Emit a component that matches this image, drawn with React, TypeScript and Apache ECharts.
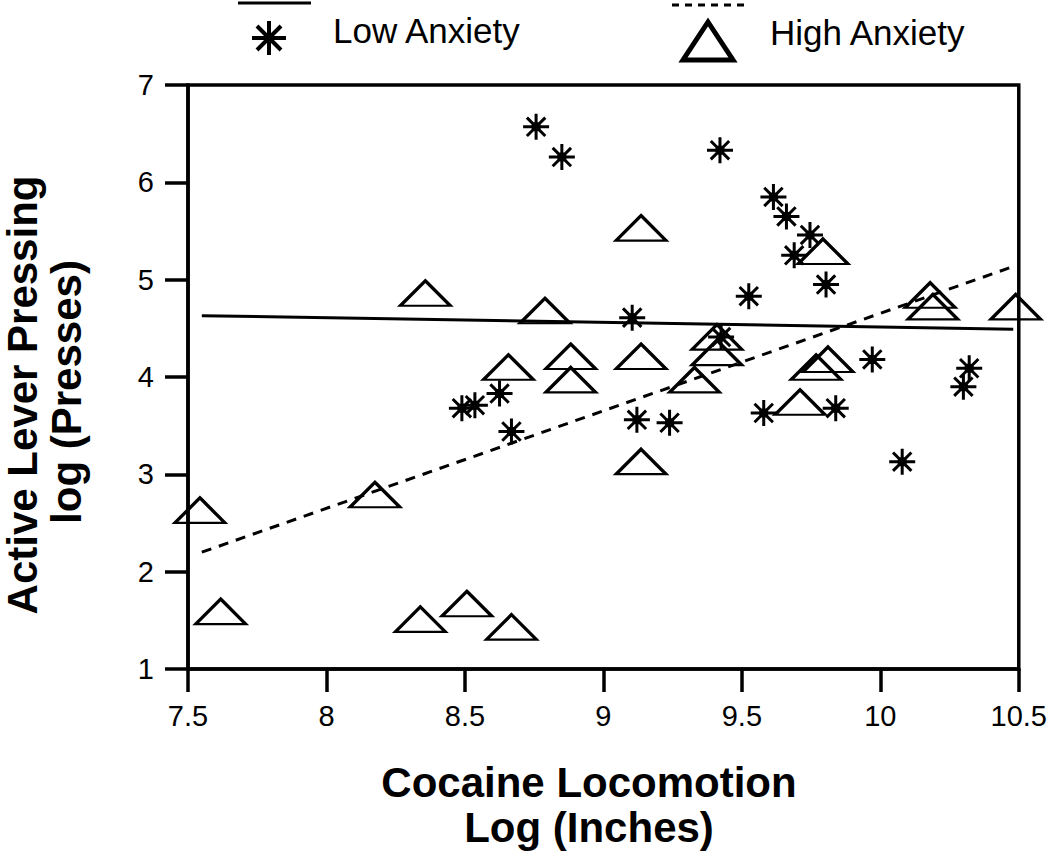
import React, { useEffect, useRef } from "react";
import * as echarts from "echarts";

// Low Anxiety (asterisks): [cocaine locomotion log, active lever pressing log]
const lowAnxiety: number[][] = [
  [8.757, 6.57], [8.85, 6.26], [9.421, 6.33], [9.614, 5.85], [9.661, 5.65],
  [9.746, 5.46], [9.689, 5.25], [9.804, 4.95], [9.525, 4.83], [9.104, 4.61],
  [9.425, 4.41], [8.625, 3.83], [8.489, 3.68], [8.536, 3.71], [8.668, 3.44],
  [9.121, 3.56], [9.239, 3.53], [9.579, 3.63], [9.839, 3.68], [9.971, 4.18],
  [10.321, 4.09], [10.30, 3.90], [10.079, 3.13],
];

// High Anxiety (triangles)
const highAnxiety: number[][] = [
  [9.136, 5.53], [8.357, 4.86], [8.789, 4.68], [8.657, 4.10], [8.882, 4.21],
  [8.882, 3.97], [9.136, 4.21], [9.136, 3.13], [9.329, 3.97], [9.41, 4.41],
  [9.41, 4.25], [9.793, 5.29], [10.18, 4.84], [10.19, 4.72], [10.489, 4.72],
  [9.811, 4.18], [9.768, 4.10], [9.71, 3.74], [7.543, 2.63], [7.618, 1.59],
  [8.175, 2.79], [8.339, 1.51], [8.507, 1.67], [8.668, 1.43],
];

// Regression lines (end points)
const lowFit: number[][] = [[7.55, 4.63], [10.48, 4.49]];
const highFit: number[][] = [[7.55, 2.2], [10.475, 5.13]];

const xTicks = { min: 7.5, max: 10.5, interval: 0.5 };
const yTicks = { min: 1, max: 7, interval: 1 };

const seriesNames = ["Low Anxiety", "High Anxiety"];
const xTitle = "Cocaine Locomotion\nLog (Inches)";
const yTitle1 = "Active Lever Pressing";
const yTitle2 = "log (Presses)";

const STAR_PATH =
  "path://M0,-13L0,13M-13,0L13,0M-9.2,-9.2L9.2,9.2M-9.2,9.2L9.2,-9.2M-3,-3L3,-3L3,3L-3,3Z";

const FONT = "'Liberation Sans', Arial, Helvetica, sans-serif";

export default function App() {
  const ref = useRef<HTMLDivElement>(null);

  useEffect(() => {
    if (!ref.current) return;
    const chart = echarts.init(ref.current, null, { renderer: "svg" });

    const fmt = (v: number) => String(v);

    const starLines = (cx: number, cy: number, r: number) => {
      const d = r * Math.SQRT1_2;
      const segs = [
        [0, -r, 0, r],
        [-r, 0, r, 0],
        [-d, -d, d, d],
        [-d, d, d, -d],
      ];
      return segs.map((s) => ({
        type: "line",
        shape: { x1: cx + s[0], y1: cy + s[1], x2: cx + s[2], y2: cy + s[3] },
        style: { stroke: "#000", lineWidth: 4 },
      }));
    };

    chart.setOption({
      animation: false,
      backgroundColor: "#fff",
      grid: {
        left: 188,
        top: 85,
        width: 839,
        height: 584,
        show: true,
        borderColor: "#000",
        borderWidth: 3.5,
        backgroundColor: "transparent",
      },
      xAxis: {
        type: "value",
        min: xTicks.min,
        max: xTicks.max,
        interval: xTicks.interval,
        splitLine: { show: false },
        axisLine: { show: true, lineStyle: { color: "#000", width: 3.5 } },
        axisTick: { show: true, inside: false, length: 23, lineStyle: { color: "#000", width: 3.5 } },
        axisLabel: {
          color: "#000",
          fontSize: 29,
          fontFamily: FONT,
          margin: 32,
          formatter: fmt,
        },
      },
      yAxis: {
        type: "value",
        min: yTicks.min,
        max: yTicks.max,
        interval: yTicks.interval,
        splitLine: { show: false },
        axisLine: { show: true, lineStyle: { color: "#000", width: 3.5 } },
        axisTick: { show: true, inside: false, length: 23, lineStyle: { color: "#000", width: 3.5 } },
        axisLabel: {
          color: "#000",
          fontSize: 29,
          fontFamily: FONT,
          margin: 34,
          formatter: fmt,
        },
      },
      series: [
        {
          name: "Low Anxiety fit",
          type: "line",
          data: lowFit,
          symbol: "none",
          silent: true,
          lineStyle: { color: "#000", width: 3, type: "solid" },
          z: 1,
        },
        {
          name: "High Anxiety fit",
          type: "line",
          data: highFit,
          symbol: "none",
          silent: true,
          lineStyle: { color: "#000", width: 3, type: [10, 8] },
          z: 1,
        },
        {
          name: seriesNames[0],
          type: "scatter",
          data: lowAnxiety,
          symbol: STAR_PATH,
          symbolSize: 26,
          itemStyle: { color: "#000", borderColor: "#000", borderWidth: 3, opacity: 1 },
          z: 3,
        },
        {
          name: seriesNames[1],
          type: "scatter",
          data: highAnxiety,
          symbol: "triangle",
          symbolSize: [50, 25],
          itemStyle: { color: "rgba(255,255,255,0)", borderColor: "#000", borderWidth: 3, opacity: 1 },
          z: 2,
        },
      ],
      graphic: [
        // legend key lines (partly cut at top)
        { type: "line", shape: { x1: 238, y1: 3, x2: 311, y2: 3 }, style: { stroke: "#000", lineWidth: 3 } },
        {
          type: "line",
          shape: { x1: 672, y1: 5, x2: 745, y2: 5 },
          style: { stroke: "#000", lineWidth: 3, lineDash: [7, 6] },
        },
        // legend asterisk
        ...starLines(269, 38, 17),
        { type: "circle", shape: { cx: 269, cy: 38, r: 4 }, style: { fill: "#000" } },
        {
          type: "text",
          x: 333,
          y: 30,
          style: {
            text: seriesNames[0],
            fontSize: 35,
            fontFamily: FONT,
            fill: "#000",
            textAlign: "left",
            textVerticalAlign: "middle",
          },
        },
        // legend triangle
        {
          type: "polygon",
          shape: { points: [[708, 22], [733, 60], [683, 60]] },
          style: { fill: "none", stroke: "#000", lineWidth: 5, lineJoin: "miter" },
        },
        {
          type: "text",
          x: 770,
          y: 32,
          style: {
            text: seriesNames[1],
            fontSize: 35,
            fontFamily: FONT,
            fill: "#000",
            textAlign: "left",
            textVerticalAlign: "middle",
          },
        },
        // x axis title
        {
          type: "text",
          x: 589,
          y: 805,
          style: {
            text: xTitle,
            fontSize: 42,
            fontWeight: "bold",
            fontFamily: FONT,
            fill: "#000",
            textAlign: "center",
            textVerticalAlign: "middle",
            lineHeight: 45,
          },
        },
        // y axis title (two lines, rotated)
        {
          type: "text",
          x: 22,
          y: 395,
          rotation: Math.PI / 2,
          style: {
            text: yTitle1,
            fontSize: 42,
            fontWeight: "bold",
            fontFamily: FONT,
            fill: "#000",
            textAlign: "center",
            textVerticalAlign: "middle",
          },
        },
        {
          type: "text",
          x: 66,
          y: 392,
          rotation: Math.PI / 2,
          style: {
            text: yTitle2,
            fontSize: 42,
            fontWeight: "bold",
            fontFamily: FONT,
            fill: "#000",
            textAlign: "center",
            textVerticalAlign: "middle",
          },
        },
      ],
    });

    return () => chart.dispose();
  }, []);

  return (
    <div
      ref={ref}
      style={{ position: "absolute", left: 0, top: 0, width: 1050, height: 852, background: "#fff" }}
    />
  );
}
